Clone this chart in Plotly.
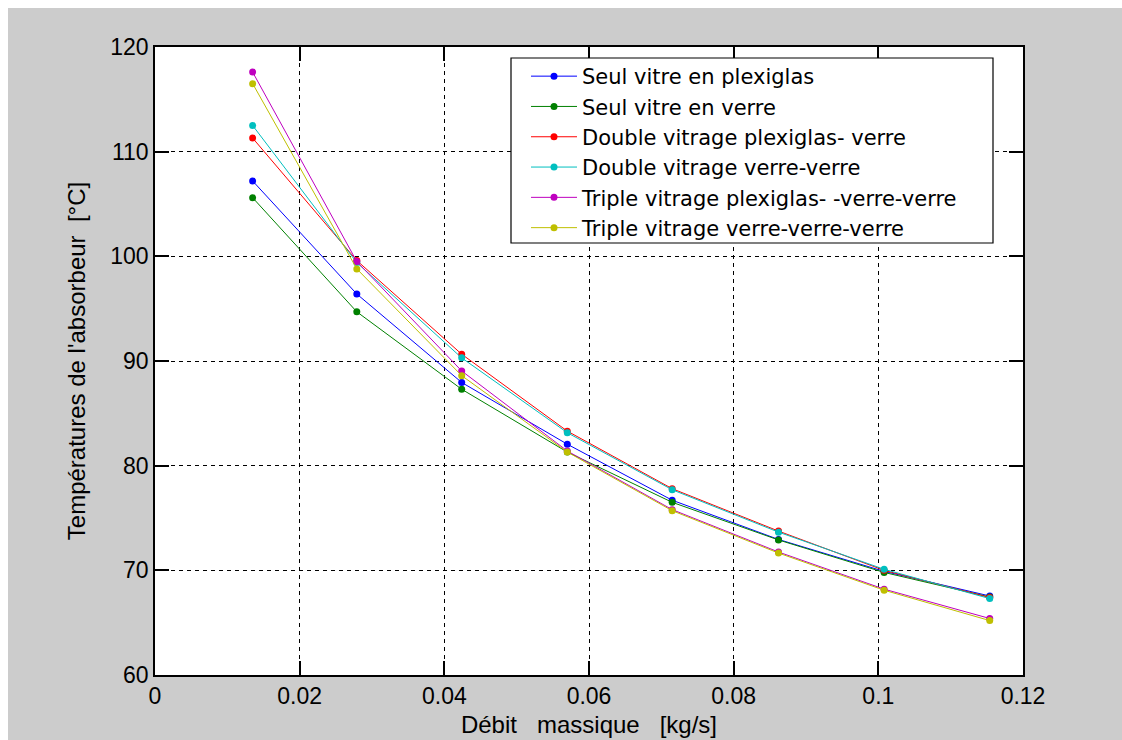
import plotly.graph_objects as go

# Data
debit = [0.0135, 0.0279, 0.0424, 0.0570, 0.0715, 0.0862, 0.1008, 0.1154]

seul_plexi = [107.2, 96.4, 87.95, 82.05, 76.7, 72.95, 69.9, 67.55]
seul_verre = [105.6, 94.7, 87.3, 81.3, 76.5, 72.9, 69.8, 67.45]
double_plexi_verre = [111.3, 99.6, 90.65, 83.3, 77.8, 73.75, 70.0, 67.4]
double_verre_verre = [112.5, 99.4, 90.3, 83.15, 77.7, 73.65, 70.1, 67.3]
triple_plexi = [117.6, 99.5, 89.05, 81.4, 75.8, 71.75, 68.2, 65.4]
triple_verre = [116.5, 98.8, 88.6, 81.3, 75.7, 71.65, 68.1, 65.2]

names = [
    "Seul vitre en plexiglas",
    "Seul vitre en verre",
    "Double vitrage plexiglas- verre",
    "Double vitrage verre-verre",
    "Triple vitrage plexiglas- -verre-verre",
    "Triple vitrage verre-verre-verre",
]
series = [seul_plexi, seul_verre, double_plexi_verre, double_verre_verre, triple_plexi, triple_verre]
colors = ["#0000ff", "#008000", "#ff0000", "#00bfbf", "#bf00bf", "#bfbf00"]

FONT = "Liberation Sans, Arial, sans-serif"
LEGEND_FONT = "DejaVu Sans, Verdana, sans-serif"

fig = go.Figure()
for name, ys, col in zip(names, series, colors):
    fig.add_trace(go.Scatter(
        x=debit, y=ys, name=name, mode="lines+markers",
        line=dict(color=col, width=1),
        marker=dict(color=col, size=7),
    ))

W, H = 1122, 740
L, R, T, B = 155, 99, 47, 65
pw, ph = W - L - R, H - T - B


def px_x(p):
    return (p - L) / pw


def px_y(p):
    return (H - B - p) / ph


shapes = [
    # gray figure background with a thin white border at top/left
    dict(type="rect", xref="paper", yref="paper", layer="below",
         x0=px_x(8), x1=px_x(W + 20), y0=px_y(H + 20), y1=px_y(8),
         fillcolor="#cccccc", line=dict(width=0)),
    dict(type="rect", xref="paper", yref="paper", layer="below",
         x0=0, x1=1, y0=0, y1=1, fillcolor="white", line=dict(width=0)),
    # legend box
    dict(type="rect", xref="paper", yref="paper", layer="above",
         x0=px_x(511), x1=px_x(993), y0=px_y(243), y1=px_y(58),
         fillcolor="white", line=dict(color="black", width=1.2)),
]

axis_common = dict(
    showline=True, linecolor="black", linewidth=1.5, mirror="ticks",
    ticks="inside", ticklen=14, tickwidth=1.5, tickcolor="black",
    showgrid=True, gridcolor="black", gridwidth=1, griddash="4px,4px",
    zeroline=False, automargin=False,
    tickfont=dict(family=FONT, size=23, color="black"),
)

fig.update_layout(
    width=W, height=H,
    margin=dict(l=L, r=R, t=T, b=B, autoexpand=False),
    paper_bgcolor="white", plot_bgcolor="white",
    shapes=shapes,
    font=dict(family=FONT, color="black"),
    xaxis=dict(range=[0, 0.12], dtick=0.02, tick0=0,
               title=dict(text="Débit\u00a0\u00a0\u00a0massique\u00a0\u00a0\u00a0[kg/s]",
                          font=dict(family=FONT, size=24, color="black"), standoff=8),
               **axis_common),
    yaxis=dict(range=[60, 120], dtick=10, tick0=60,
               title=dict(text="Températures de l'absorbeur\u00a0\u00a0[°C]",
                          font=dict(family=FONT, size=24, color="black"), standoff=18),
               **axis_common),
    legend=dict(x=px_x(511), y=px_y(56), xanchor="left", yanchor="top",
                bgcolor="rgba(0,0,0,0)", borderwidth=0,
                font=dict(family=LEGEND_FONT, size=21, color="black"),
                tracegroupgap=0, itemwidth=46, indentation=15),
    showlegend=True,
)

fig.write_html("out.html")
